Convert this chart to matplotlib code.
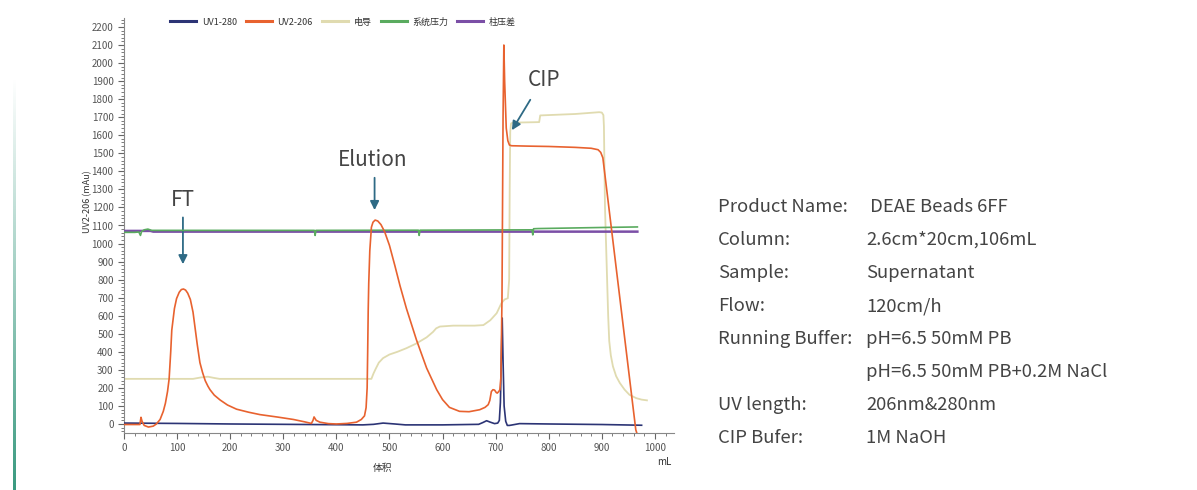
import numpy as np
import matplotlib
matplotlib.use("Agg")
import matplotlib.pyplot as plt
from matplotlib.ticker import MultipleLocator
from matplotlib.colors import LinearSegmentedColormap

plt.rcParams['font.family'] = ['Noto Sans CJK SC', 'DejaVu Sans']

# UV2-206 (orange)
uv2_x = [0, 20, 30, 32, 34, 38, 46, 55, 61, 68, 74, 78, 82, 85, 88, 90, 95, 99, 104, 108,
         112, 116, 120, 125, 130, 134, 138, 143, 148, 153, 158, 162, 170, 181, 195, 212,
         235, 256, 290, 319, 340, 353, 356, 358, 362, 369, 385, 400, 420, 438, 447, 453,
         456, 458, 459, 460, 461, 463, 466, 469, 473, 478, 484, 491, 500, 510, 520, 532,
         551, 570, 589, 600, 613, 632, 650, 670, 680, 686, 689, 692, 695, 698, 701, 703,
         706, 708, 710, 712, 714, 715.5, 717, 720, 723, 726, 730, 760, 800, 850, 880, 893,
         898, 902, 964, 967]
uv2_y = [-3, -3, -3, 37, 15, -8, -17, -12, 0, 25, 70, 115, 180, 250, 400, 520, 640, 695, 730, 745,
         748, 742, 725, 690, 620, 530, 440, 340, 285, 240, 210, 190, 160, 133, 105, 82,
         65, 52, 38, 25, 12, 3, 20, 39, 20, 10, 2, 0, 3, 10, 25, 45,
         90, 200, 400, 630, 780, 960, 1090, 1118, 1130, 1125, 1105, 1065, 990, 880, 765, 640,
         465, 310, 190, 135, 92, 70, 68, 79, 92, 107, 130, 180, 190, 188, 175, 171,
         180, 190, 260, 700, 1700, 2100, 1900, 1640, 1570, 1546, 1542, 1540, 1538, 1533, 1528, 1520,
         1505, 1475, -32, -60]

# UV1-280 (navy)
uv1_x = [0, 100, 200, 300, 450, 470, 488, 510, 530, 600, 668, 676, 683, 690, 698, 704, 707,
         709, 711, 712.4, 714, 716, 719, 722, 726, 730, 745, 800, 900, 975]
uv1_y = [5, 3, 0, -2, -5, -2, 5, 0, -5, -5, -2, 8, 18, 10, 2, 5, 20,
         120, 400, 587, 350, 100, 15, -8, -8, -6, 2, 0, -3, -7]

# 电导 conductivity (beige)
cond_x = [0, 130, 145, 158, 170, 180, 466, 470, 474, 480, 488, 500, 515, 532, 550, 570, 582,
          588, 595, 620, 660, 677, 690, 702, 711, 717, 723, 725.5, 726.5, 727.5, 729, 732,
          782, 784, 800, 850, 895, 900, 903, 904, 906, 909, 912, 914, 917, 921, 927, 934,
          943, 952, 965, 975, 985]
cond_y = [250, 250, 258, 262, 255, 250, 250, 280, 305, 340, 365, 385, 400, 420, 445, 480, 510,
          530, 540, 545, 545, 548, 575, 614, 670, 690, 697, 800, 1300, 1620, 1665, 1670,
          1673, 1710, 1712, 1718, 1728, 1726, 1712, 1650, 1200, 900, 600, 460, 380, 319, 265, 227,
          190, 162, 143, 135, 131]

# 系统压力 system pressure (green)
pres_x = [0, 20, 28, 31, 33, 38, 45, 52, 100, 358.5, 360, 361.5, 554.5, 556, 557.5,
          768.5, 770, 771.5, 780, 900, 967]
pres_y = [1062, 1062, 1064, 1045, 1066, 1076, 1080, 1073, 1073, 1073, 1045, 1073, 1074, 1045, 1074,
          1076, 1048, 1082, 1083, 1089, 1092]

# 柱压差 column pressure difference (purple)
dp_x = [0, 50, 55, 967]
dp_y = [1070, 1070, 1066, 1066]

info_labels = ["Product Name:", "Column:", "Sample:", "Flow:", "Running Buffer:", "",
               "UV length:", "CIP Bufer:"]
info_values = [" DEAE Beads 6FF", "2.6cm*20cm,106mL", "Supernatant", "120cm/h",
               "pH=6.5 50mM PB", "pH=6.5 50mM PB+0.2M NaCl", "206nm&280nm", "1M NaOH"]

fig = plt.figure(figsize=(11.97, 4.90), dpi=100)
ax = fig.add_axes([124 / 1197, 57 / 490, 550 / 1197, 415 / 490])

l_cond, = ax.plot(cond_x, cond_y, color='#e0dbb0', lw=1.3, label='电导', zorder=2)
l_dp, = ax.plot(dp_x, dp_y, color='#7b4fa6', lw=1.8, label='柱压差', zorder=3)
l_pres, = ax.plot(pres_x, pres_y, color='#5aab5f', lw=1.2, label='系统压力', zorder=4)
l_uv1, = ax.plot(uv1_x, uv1_y, color='#2c3475', lw=1.2, label='UV1-280', zorder=5)
l_uv2, = ax.plot(uv2_x, uv2_y, color='#e8622f', lw=1.2, label='UV2-206', zorder=6)

ax.set_xlim(0, 1036)
ax.set_ylim(-50, 2250)
ax.xaxis.set_major_locator(MultipleLocator(100))
ax.xaxis.set_minor_locator(MultipleLocator(20))
ax.yaxis.set_minor_locator(MultipleLocator(20))
ax.set_yticks(np.arange(0, 2201, 100))
ax.tick_params(which='both', direction='out', colors='#666', labelsize=7, labelcolor='#555')
ax.tick_params(which='major', length=4, width=0.8)
ax.tick_params(which='minor', length=2.5, width=0.6)
for side in ['top', 'right']:
    ax.spines[side].set_visible(False)
for side in ['left', 'bottom']:
    ax.spines[side].set_color('#888')
    ax.spines[side].set_linewidth(0.8)

ax.text(0.47, -0.085, '体积', transform=ax.transAxes, fontsize=7, color='#333', ha='center', va='center')
ax.text(0.995, -0.07, 'mL', transform=ax.transAxes, fontsize=7, color='#333', ha='right', va='center')
fig.text(88 / 1197, 1 - 202 / 490, 'UV2-206 (mAu)', rotation=90, fontsize=6.5, color='#333',
         ha='center', va='center')

# annotations
arrow_col = '#2e6a85'
ap = dict(arrowstyle='-|>', color=arrow_col, lw=1.3, mutation_scale=13)
ax.annotate('', xy=(111, 870), xytext=(111, 1160), arrowprops=ap)
ax.text(111, 1240, 'FT', fontsize=15, color='#444', ha='center', va='center')
ax.annotate('', xy=(472, 1170), xytext=(472, 1380), arrowprops=ap)
ax.text(469, 1465, 'Elution', fontsize=15, color='#444', ha='center', va='center')
ax.annotate('', xy=(728, 1615), xytext=(768, 1810), arrowprops=ap)
ax.text(791, 1905, 'CIP', fontsize=15, color='#444', ha='center', va='center')

leg = fig.legend([l_uv1, l_uv2, l_cond, l_pres, l_dp],
                 ['UV1-280', 'UV2-206', '电导', '系统压力', '柱压差'],
                 loc='center', bbox_to_anchor=(343 / 1197, 1 - 22 / 490), ncol=5, frameon=False,
                 fontsize=6.5, handlelength=2.9, columnspacing=1.0, handletextpad=0.6,
                 labelcolor='#333')
for h in leg.legend_handles:
    h.set_linewidth(2.2)

# info block on the right
for i, (lab, val) in enumerate(zip(info_labels, info_values)):
    yy = 1 - (207 + i * 33) / 490
    fig.text(718 / 1197, yy, lab, fontsize=13.3, color='#444', va='center', ha='left')
    fig.text(866 / 1197, yy, val, fontsize=13.3, color='#444', va='center', ha='left')

# decorative gradient bar on the left
gax = fig.add_axes([13 / 1197, 0, 2.5 / 1197, 410 / 490])
grad = np.linspace(0, 1, 256).reshape(-1, 1)
cm = LinearSegmentedColormap.from_list('g', ['#ffffff', '#3a9a80'])
gax.imshow(grad, aspect='auto', cmap=cm, origin='upper')
gax.axis('off')

fig.savefig('out.png', dpi=100)
